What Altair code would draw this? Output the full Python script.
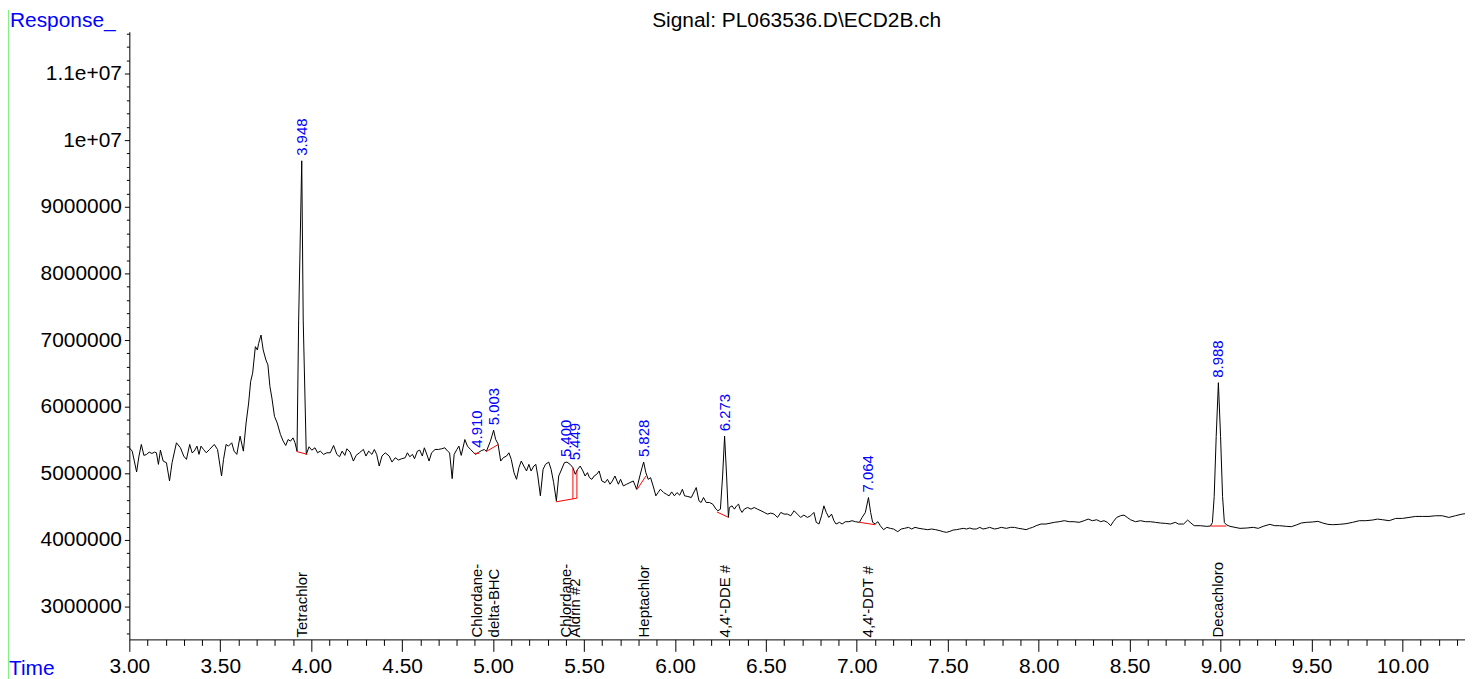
import altair as alt
import pandas as pd

FONT = "Liberation Sans"
title_text = "Signal: PL063536.D\\ECD2B.ch"
y_title = "Response_"
x_title = "Time"

trace_t = [
    3.000, 3.016, 3.040, 3.053, 3.066, 3.080, 3.095, 3.109, 3.124, 3.139, 3.149, 3.160, 3.171, 3.186,
    3.204, 3.221, 3.235, 3.259, 3.281, 3.299, 3.314, 3.332, 3.345, 3.357, 3.372, 3.383, 3.394, 3.408,
    3.423, 3.441, 3.467, 3.485, 3.507, 3.518, 3.532, 3.545, 3.563, 3.576, 3.591, 3.609, 3.627, 3.642,
    3.656, 3.667, 3.678, 3.693, 3.704, 3.711, 3.724, 3.736, 3.751, 3.762, 3.773, 3.784, 3.798, 3.813,
    3.831, 3.846, 3.860, 3.873, 3.886, 3.900, 3.911, 3.922, 3.931, 3.948, 3.956, 3.973, 3.988, 4.003,
    4.021, 4.035, 4.050, 4.068, 4.086, 4.105, 4.123, 4.141, 4.156, 4.170, 4.185, 4.196, 4.214, 4.232,
    4.247, 4.265, 4.287, 4.301, 4.316, 4.334, 4.347, 4.360, 4.374, 4.389, 4.407, 4.429, 4.444, 4.462,
    4.480, 4.498, 4.517, 4.529, 4.542, 4.557, 4.568, 4.584, 4.597, 4.611, 4.622, 4.639, 4.648, 4.662,
    4.681, 4.699, 4.717, 4.735, 4.750, 4.761, 4.775, 4.786, 4.801, 4.812, 4.825, 4.845, 4.859, 4.876,
    4.894, 4.903, 4.920, 4.935, 4.952, 4.963, 4.985, 5.003, 5.014, 5.027, 5.042,
    5.056, 5.074, 5.087, 5.100, 5.115, 5.129, 5.142, 5.155, 5.169, 5.184, 5.197, 5.209, 5.224, 5.235,
    5.246, 5.260, 5.275, 5.288, 5.306, 5.319, 5.333, 5.348, 5.361, 5.373, 5.392, 5.406, 5.424, 5.439,
    5.452, 5.465, 5.479, 5.494, 5.506, 5.519, 5.530, 5.543, 5.556, 5.570, 5.583, 5.598, 5.616, 5.629,
    5.643, 5.656, 5.670, 5.689, 5.701, 5.716, 5.734, 5.752, 5.771, 5.789, 5.807, 5.819, 5.828, 5.840,
    5.853, 5.866, 5.880, 5.895, 5.907, 5.920, 5.938, 5.953, 5.968, 5.982, 5.997, 6.011, 6.026, 6.041,
    6.053, 6.071, 6.090, 6.108, 6.117, 6.132, 6.144, 6.157, 6.172, 6.190, 6.208, 6.226, 6.236, 6.250,
    6.262, 6.273, 6.284, 6.294, 6.299, 6.314, 6.327, 6.339, 6.350, 6.358, 6.369, 6.381, 6.400, 6.418,
    6.436, 6.454, 6.473, 6.491, 6.509, 6.527, 6.545, 6.564, 6.582, 6.600, 6.618, 6.637, 6.655, 6.673,
    6.691, 6.709, 6.728, 6.746, 6.764, 6.777, 6.792, 6.806, 6.819,
    6.832, 6.846, 6.861, 6.874, 6.886, 6.905, 6.919, 6.937, 6.956, 6.974, 6.992, 7.014, 7.029, 7.047,
    7.064, 7.076, 7.087, 7.101, 7.116, 7.129, 7.147, 7.165, 7.184, 7.202, 7.225, 7.244, 7.262, 7.284,
    7.302, 7.320, 7.342, 7.366, 7.390, 7.411, 7.433, 7.457, 7.475, 7.493, 7.512, 7.530, 7.548, 7.566,
    7.585, 7.603, 7.621, 7.639, 7.657, 7.676, 7.694, 7.712, 7.730, 7.758, 7.776, 7.794, 7.822, 7.845,
    7.867, 7.889, 7.913, 7.931, 7.949, 7.967, 7.986, 8.013, 8.040, 8.068, 8.086, 8.113, 8.141, 8.168,
    8.195, 8.222, 8.250, 8.272, 8.295, 8.319, 8.341, 8.359, 8.378, 8.396, 8.410, 8.429, 8.450, 8.469,
    8.487, 8.505, 8.532, 8.560, 8.587, 8.614, 8.642, 8.669, 8.696, 8.724, 8.751, 8.769, 8.797, 8.819,
    8.837, 8.855, 8.888, 8.924,
    8.944, 8.955, 8.965, 8.976, 8.988, 9.000, 9.011, 9.021, 9.034,
    9.052, 9.079, 9.107, 9.143, 9.180, 9.207, 9.234, 9.271, 9.298, 9.325, 9.362, 9.389, 9.416, 9.444,
    9.471, 9.504, 9.535, 9.562, 9.590, 9.617, 9.653, 9.690, 9.726, 9.763, 9.799, 9.836, 9.863, 9.890,
    9.927, 9.963, 10.000, 10.036, 10.073, 10.109, 10.146, 10.182, 10.219, 10.255, 10.291, 10.328, 10.344,
]

trace_v_millions = [
    5.383, 5.333, 5.020, 5.259, 5.433, 5.269, 5.284, 5.318, 5.298, 5.318, 5.308, 5.134, 5.348, 5.184,
    5.159, 4.886, 5.159, 5.458, 5.383, 5.259, 5.209, 5.433, 5.308, 5.333, 5.408, 5.284, 5.408, 5.358,
    5.308, 5.358, 5.433, 5.358, 4.960, 5.209, 5.433, 5.408, 5.458, 5.333, 5.284, 5.557, 5.333, 5.756,
    6.055, 6.378, 6.503, 6.901, 6.851, 6.950, 7.075, 6.851, 6.701, 6.627, 6.303, 6.129, 5.856, 5.756,
    5.582, 5.483, 5.418, 5.507, 5.483, 5.532, 5.458, 5.333, 7.300, 9.690, 7.300, 5.284, 5.398, 5.348,
    5.383, 5.308, 5.333, 5.284, 5.308, 5.308, 5.418, 5.284, 5.249, 5.333, 5.269, 5.368, 5.318, 5.184,
    5.269, 5.308, 5.358, 5.259, 5.333, 5.284, 5.358, 5.284, 5.109, 5.259, 5.308, 5.259, 5.169, 5.234,
    5.199, 5.219, 5.234, 5.308, 5.249, 5.284, 5.219, 5.333, 5.348, 5.259, 5.383, 5.259, 5.184, 5.308,
    5.358, 5.358, 5.368, 5.383, 5.333, 5.308, 4.920, 5.284, 5.358, 5.408, 5.269, 5.507, 5.408, 5.358,
    5.308, 5.284, 5.313, 5.340, 5.358, 5.328, 5.480, 5.647, 5.510, 5.443, 5.184,
    5.234, 5.259, 5.308, 5.209, 5.010, 4.910, 5.084, 5.184, 5.109, 5.035, 5.134, 5.035, 5.109, 5.134,
    4.960, 4.662, 5.060, 5.134, 5.169, 5.060, 4.860, 4.587, 4.960, 5.035, 5.159, 5.169, 5.134, 5.084,
    4.985, 5.060, 5.109, 5.035, 4.960, 5.010, 4.935, 4.910, 4.960, 4.985, 5.035, 4.885, 4.860, 4.910,
    4.836, 4.885, 4.960, 4.836, 4.910, 4.811, 4.836, 4.860, 4.885, 4.761, 4.960, 5.084, 5.169, 5.010,
    4.910, 4.935, 4.811, 4.662, 4.711, 4.761, 4.711, 4.686, 4.662, 4.721, 4.662, 4.711, 4.672, 4.761,
    4.662, 4.652, 4.637, 4.736, 4.786, 4.587, 4.562, 4.637, 4.562, 4.562, 4.537, 4.462, 4.438, 4.462,
    4.960, 5.557, 4.960, 4.338, 4.487, 4.512, 4.462, 4.512, 4.537, 4.462, 4.413, 4.462, 4.487, 4.462,
    4.487, 4.462, 4.438, 4.413, 4.388, 4.403, 4.388, 4.338, 4.413, 4.388, 4.388, 4.363, 4.438, 4.388,
    4.338, 4.373, 4.338, 4.363, 4.413, 4.264, 4.239, 4.363, 4.512,
    4.413, 4.338, 4.388, 4.289, 4.239, 4.264, 4.239, 4.274, 4.274, 4.289, 4.274, 4.264, 4.338, 4.413,
    4.637, 4.413, 4.264, 4.239, 4.274, 4.214, 4.154, 4.189, 4.174, 4.164, 4.124, 4.164, 4.174, 4.189,
    4.164, 4.189, 4.174, 4.164, 4.154, 4.164, 4.154, 4.139, 4.124, 4.114, 4.129, 4.149, 4.154, 4.164,
    4.174, 4.164, 4.179, 4.164, 4.164, 4.189, 4.164, 4.174, 4.189, 4.164, 4.174, 4.189, 4.174, 4.189,
    4.189, 4.174, 4.164, 4.154, 4.174, 4.189, 4.214, 4.239, 4.239, 4.254, 4.264, 4.274, 4.289, 4.274,
    4.274, 4.264, 4.289, 4.313, 4.289, 4.303, 4.274, 4.289, 4.264, 4.214, 4.274, 4.338, 4.363, 4.373,
    4.338, 4.303, 4.274, 4.289, 4.274, 4.274, 4.264, 4.254, 4.249, 4.239, 4.264, 4.239, 4.239, 4.298,
    4.254, 4.214, 4.214, 4.204,
    4.209, 4.260, 4.650, 5.550, 6.360, 5.550, 4.650, 4.260, 4.224,
    4.204, 4.189, 4.174, 4.179, 4.189, 4.174, 4.204, 4.234, 4.214, 4.214, 4.204, 4.199, 4.224, 4.254,
    4.264, 4.269, 4.279, 4.254, 4.234, 4.229, 4.234, 4.244, 4.264, 4.289, 4.289, 4.299, 4.313, 4.304,
    4.289, 4.323, 4.323, 4.338, 4.353, 4.353, 4.353, 4.363, 4.363, 4.338, 4.363, 4.388, 4.393,
]

# integrated peaks: retention time and apex response
peak_rt = [3.948, 4.910, 5.003, 5.400, 5.449, 5.828, 6.273, 7.064, 8.988]
peak_height_millions = [9.690, 5.310, 5.647, 5.169, 5.120, 5.169, 5.557, 4.637, 6.360]
compound_names = ["Tetrachlor", "Chlordane-", "delta-BHC", "Chlordane-", "Aldrin #2",
                  "Heptachlor", "4,4'-DDE #", "4,4'-DDT #", "Decachloro"]

# red integration baselines / drop lines (segment id, time, response)
base_seg = ["a", "a", "b", "b", "c", "c", "d", "d", "e", "e", "f", "f",
            "g", "g", "h", "h", "i", "i", "j", "j"]
base_t = [3.919, 3.979, 4.897, 4.923, 4.963, 5.029, 5.346, 5.461, 5.439, 5.439, 5.461, 5.461,
          5.791, 5.840, 6.231, 6.294, 7.015, 7.101, 8.944, 9.032]
base_v_millions = [5.328, 5.284, 5.300, 5.300, 5.328, 5.433, 4.572, 4.627, 4.617, 5.084, 4.627, 5.050,
                   4.755, 4.958, 4.420, 4.340, 4.265, 4.228, 4.209, 4.209]

x_domain = [3.0, 10.344]
y_domain = [2507500, 11627000]
x_ticks = [round(3.0 + 0.1 * i, 1) for i in range(74)]
y_ticks = [2600000 + 200000 * i for i in range(46)]

W, H = 1343, 611

trace = pd.DataFrame({"t": trace_t, "v": [m * 1e6 for m in trace_v_millions]})
peaks = pd.DataFrame({"rt": peak_rt, "h": [m * 1e6 for m in peak_height_millions],
                      "name": compound_names})
bases = pd.DataFrame({"seg": base_seg, "t": base_t, "v": [m * 1e6 for m in base_v_millions]})
one = pd.DataFrame({"k": [0]})

x_major = "abs(datum.value*2 - round(datum.value*2)) < 0.001"
y_major = "datum.value % 1000000 == 0"

x_enc = alt.X(
    "t:Q",
    scale=alt.Scale(domain=x_domain, nice=False, zero=False),
    axis=alt.Axis(
        title=None, grid=False, values=x_ticks, tickCount=500,
        labelExpr=f"{x_major} ? format(datum.value, '.2f') : ''",
        tickSize={"condition": {"test": x_major, "value": 12}, "value": 6},
        labelPadding=4, labelFont=FONT, labelFontSize=21, labelColor="black",
        domainColor="black", tickColor="black", domainWidth=1, tickWidth=1,
        labelOverlap=False, labelFlush=False, labelBound=False,
    ),
)
y_enc = alt.Y(
    "v:Q",
    scale=alt.Scale(domain=y_domain, nice=False, zero=False),
    axis=alt.Axis(
        title=None, grid=False, values=y_ticks, tickCount=500,
        labelExpr=(f"{y_major} ? (datum.value >= 10000000 ? "
                   "replace(format(datum.value, '.2~e'), 'e+', 'e+0') : format(datum.value, 'd')) : ''"),
        tickSize={"condition": {"test": y_major, "value": 5}, "value": 3},
        labelPadding=3, labelFont=FONT, labelFontSize=21, labelColor="black",
        domainColor="black", tickColor="black", domainWidth=1, tickWidth=1,
        labelOverlap=False, labelFlush=False, labelBound=False,
    ),
)

line = alt.Chart(trace).mark_line(color="black", strokeWidth=1).encode(x=x_enc, y=y_enc)

baselines = alt.Chart(bases).mark_line(color="#ff0000", strokeWidth=1).encode(
    x="t:Q", y="v:Q", detail="seg:N")

peak_labels = alt.Chart(peaks).mark_text(
    angle=270, align="left", baseline="middle", dx=5, fontSize=15, font=FONT, color="#0000ff"
).encode(x="rt:Q", y="h:Q", text=alt.Text("rt:Q", format=".3f"))

name_labels = alt.Chart(peaks).mark_text(
    angle=270, align="left", baseline="middle", fontSize=15, font=FONT, color="black"
).encode(x="rt:Q", y=alt.value(H - 2), text="name:N")

title_mark = alt.Chart(one).mark_text(
    text=title_text, align="center", baseline="alphabetic", fontSize=21, font=FONT, color="black"
).encode(x=alt.value(671), y=alt.value(-5))

ytitle_mark = alt.Chart(one).mark_text(
    text=y_title, align="left", baseline="alphabetic", fontSize=21, font=FONT, color="#0000ff"
).encode(x=alt.value(-120), y=alt.value(-5))

xtitle_mark = alt.Chart(one).mark_text(
    text=x_title, align="left", baseline="alphabetic", fontSize=21, font=FONT, color="#0000ff"
).encode(x=alt.value(-121), y=alt.value(H + 36))

frame_left = alt.Chart(one).mark_rule(color="#80f080", strokeWidth=1).encode(
    x=alt.value(-121.5), y=alt.value(-22), y2=alt.value(H + 60))

chart = alt.layer(
    frame_left, line, baselines, peak_labels, name_labels, title_mark, ytitle_mark, xtitle_mark
).properties(
    width=W, height=H,
    padding={"left": 122, "top": 22, "right": 0, "bottom": 46},
    autosize=alt.AutoSizeParams(type="none"),
    background="white",
).configure_view(strokeWidth=0)

chart.save("out.html", embed_options={"renderer": "svg", "actions": False})
